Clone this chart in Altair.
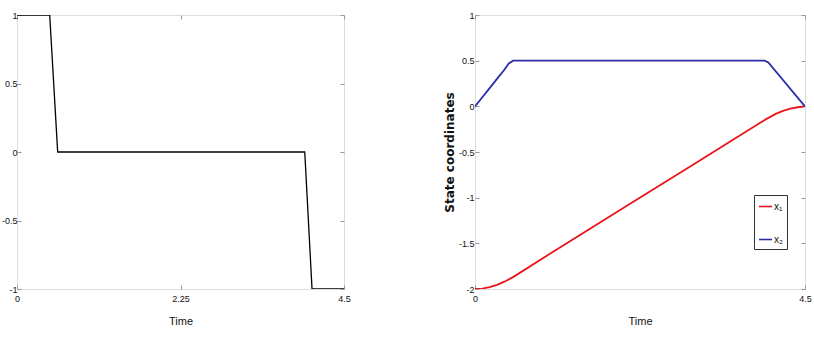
import altair as alt
import pandas as pd

# Left panel: control input
t_u = [0.0, 0.45, 0.56, 3.96, 4.06, 4.5]
u_vals = [1.0, 1.0, 0.0, 0.0, -1.0, -1.0]

# Right panel: state coordinates
t_x1 = [0.0, 0.1, 0.2, 0.3, 0.4, 0.52, 1.0, 2.0, 3.0, 3.9, 3.97, 4.1, 4.2, 4.3, 4.4, 4.5]
x1_vals = [-2.0, -1.995, -1.98, -1.955, -1.92, -1.87, -1.625, -1.125, -0.625, -0.175, -0.14, -0.083, -0.05, -0.026, -0.01, 0.0]
t_x2 = [0.0, 0.1, 0.2, 0.3, 0.4, 0.46, 0.52, 3.95, 4.0, 4.5]
x2_vals = [0.0, 0.1, 0.2, 0.3, 0.4, 0.47, 0.5, 0.5, 0.48, 0.0]

left_xticks = [0, 2.25, 4.5]
left_yticks = [-1, -0.5, 0, 0.5, 1]
right_xticks = [0, 4.5]
right_yticks = [-2, -1.5, -1, -0.5, 0, 0.5, 1]
series_names = ["x\u2081", "x\u2082"]
series_colors = ["#e8151b", "#2a2fa8"]

FONT = "Liberation Sans Narrow, Liberation Sans, Arial, sans-serif"
LABEL_EXPR = "'' + datum.value"

df_u = pd.DataFrame({"t": t_u, "u": u_vals})
df_x = pd.concat([
    pd.DataFrame({"t": t_x1, "v": x1_vals, "s": series_names[0]}),
    pd.DataFrame({"t": t_x2, "v": x2_vals, "s": series_names[1]}),
])


def ax(values, orient, title=None, labels=True, title_font=FONT, title_size=11,
       title_weight="normal", title_pad=12, label_pad=5):
    kw = dict(values=values, orient=orient, domain=False, grid=False, ticks=True,
              tickSize=4, offset=-4, tickColor="#999", tickWidth=1, labels=labels,
              labelFont=FONT, labelFontSize=9, labelColor="#111", labelPadding=label_pad,
              labelFlush=False, labelOverlap=False)
    if labels:
        kw["labelExpr"] = LABEL_EXPR
    if title is not None:
        kw.update(title=title, titleFont=title_font, titleFontSize=title_size,
                  titleFontWeight=title_weight, titleColor="#111", titlePadding=title_pad)
    else:
        kw.update(title=None)
    return alt.Axis(**kw)


xs_l = alt.Scale(domain=[0, 4.5], nice=False, zero=False)
ys_l = alt.Scale(domain=[-1, 1], nice=False, zero=False)
left_main = alt.Chart(df_u).mark_line(color="#000", strokeWidth=1.3, clip=True).encode(
    x=alt.X("t:Q", scale=xs_l, axis=ax(left_xticks, "bottom", "Time")),
    y=alt.Y("u:Q", scale=ys_l, axis=ax(left_yticks, "left", label_pad=0)),
)
left_mirror = alt.Chart(df_u).mark_line(opacity=0).encode(
    x=alt.X("t:Q", scale=xs_l, axis=ax(left_xticks, "top", labels=False)),
    y=alt.Y("u:Q", scale=ys_l, axis=ax(left_yticks, "right", labels=False)),
)
left = alt.layer(left_main, left_mirror).resolve_axis(
    x="independent", y="independent").properties(width=327, height=274)

xs_r = alt.Scale(domain=[0, 4.5], nice=False, zero=False)
ys_r = alt.Scale(domain=[-2, 1], nice=False, zero=False)
right_main = alt.Chart(df_x).mark_line(strokeWidth=1.8, clip=True).encode(
    x=alt.X("t:Q", scale=xs_r, axis=ax(right_xticks, "bottom", "Time")),
    y=alt.Y("v:Q", scale=ys_r,
            axis=ax(right_yticks, "left", "State coordinates", title_font="DejaVu Sans",
                    title_size=12, title_weight="bold", title_pad=2, label_pad=1)),
    color=alt.Color("s:N", scale=alt.Scale(domain=series_names, range=series_colors),
                    legend=alt.Legend(title=None, orient="none", legendX=737, legendY=180,
                                      strokeColor="#333", padding=4, fillColor="white",
                                      symbolType="stroke", symbolSize=170, symbolStrokeWidth=1.6,
                                      labelFont=FONT, labelFontSize=10, labelColor="#111",
                                      rowPadding=20, labelOffset=1)),
)
right_mirror = alt.Chart(df_x).mark_line(opacity=0).encode(
    x=alt.X("t:Q", scale=xs_r, axis=ax(right_xticks, "top", labels=False)),
    y=alt.Y("v:Q", scale=ys_r, axis=ax(right_yticks, "right", labels=False)),
    detail="s:N",
)
right = alt.layer(right_main, right_mirror).resolve_axis(
    x="independent", y="independent").properties(width=330, height=274)

chart = alt.hconcat(left, right, spacing=91).properties(
    padding={"left": 0, "top": 10, "right": 0, "bottom": 5}
).configure_view(stroke="#555", strokeWidth=1).configure(background="white")

chart.save("out.html", embed_options={"renderer": "svg", "actions": False})
